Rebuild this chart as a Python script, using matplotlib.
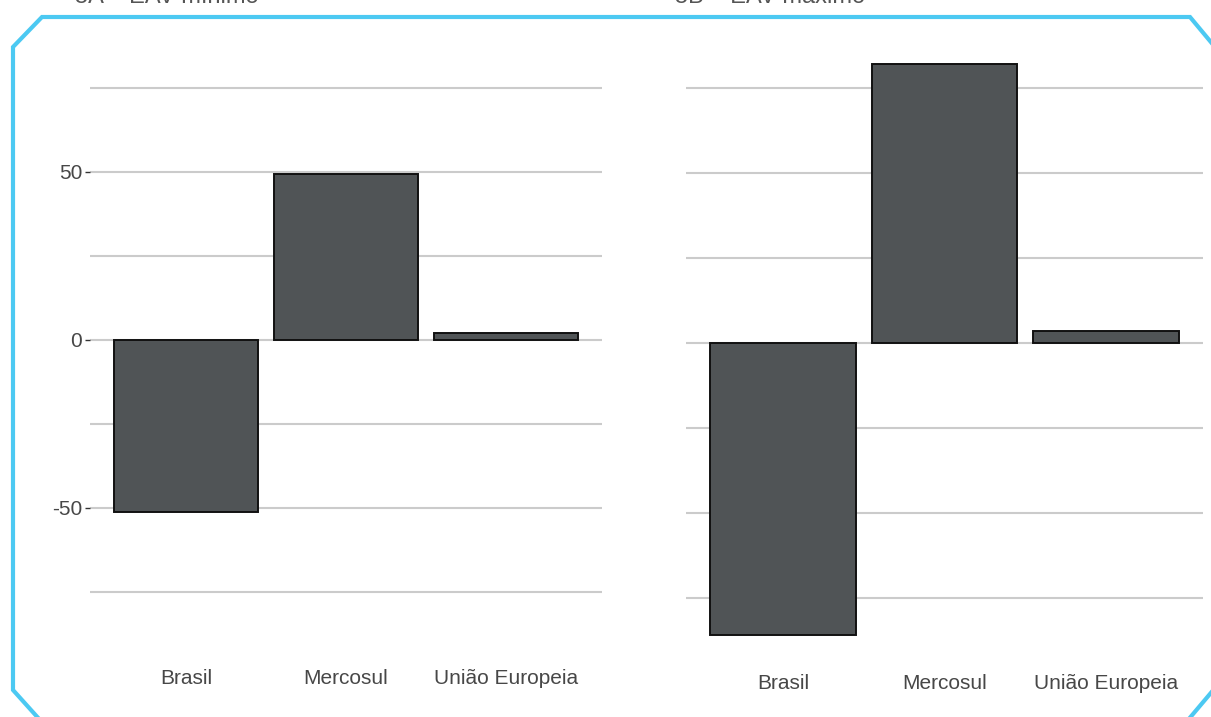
"""
EAV minimo / maximo bar panels
"""
import matplotlib as mpl
import matplotlib.pyplot as plt
from matplotlib.lines import Line2D

mpl.rcParams['font.family'] = ['Liberation Sans', 'DejaVu Sans']

categories = ['Brasil', 'Mercosul', 'União Europeia']
eav_min = [-51.2, 49.4, 2.1]
eav_max = [-85.9, 82.1, 3.5]
titles = ['5A – EAV mínimo', '5B – EAV máximo']
yticks_min = [-50, 0, 50]
grid_min = [-75, -50, -25, 0, 25, 50, 75]
grid_max = [-75, -50, -25, 0, 25, 50, 75]

W, H = 1211, 717
fig = plt.figure(figsize=(W / 100, H / 100), dpi=100)


def px_box(x0, y0, x1, y1):
    # pixel box (top-left origin) -> figure fraction rect
    return [x0 / W, 1 - y1 / H, (x1 - x0) / W, (y1 - y0) / H]


ax1 = fig.add_axes(px_box(90, 60, 602, 650))
ax2 = fig.add_axes(px_box(686, 50, 1203, 655))

grid_color = '#cbcbcb'
bar_color = '#505456'
text_color = '#474747'

for ax, vals, grid, ylim in [(ax1, eav_min, grid_min, (-92.3, 83.3)),
                             (ax2, eav_max, grid_max, (-91.8, 86.2))]:
    for g in grid:
        ax.axhline(g, color=grid_color, linewidth=1.5, zorder=1)
    ax.bar(range(len(categories)), vals, width=0.9, color=bar_color,
           edgecolor='#111111', linewidth=1.4, zorder=3)
    ax.set_xlim(-0.6, 2.6)
    ax.set_ylim(*ylim)
    ax.set_xticks(range(len(categories)))
    ax.set_xticklabels(categories, fontsize=15, color=text_color)
    ax.tick_params(axis='x', length=0, pad=14)
    for s in ax.spines.values():
        s.set_visible(False)
    ax.set_facecolor('none')

ax1.set_yticks(yticks_min)
ax1.set_yticklabels([str(t) for t in yticks_min], fontsize=15,
                    color=text_color)
ax1.tick_params(axis='y', length=3.5, width=1, color='#333333', pad=2)
ax2.set_yticks([])

# partially cut-off panel titles at the very top
fig.text(75 / W, 1 - 3 / H, titles[0], fontsize=17, color='#555555',
         va='baseline', ha='left')
fig.text(675 / W, 1 - 3 / H, titles[1], fontsize=17, color='#555555',
         va='baseline', ha='left')

# blue frame with cut corners
frame_color = '#4cc9f2'
pts = [(1215, 47), (1190, 17), (42, 17), (13, 47), (13, 690), (40, 720)]
xs = [p[0] / W for p in pts]
ys = [1 - p[1] / H for p in pts]
fig.add_artist(Line2D(xs, ys, color=frame_color, linewidth=3,
                      transform=fig.transFigure, solid_joinstyle='miter'))
fig.add_artist(Line2D([1215 / W, 1188 / W], [1 - 688 / H, 1 - 720 / H],
                      color=frame_color, linewidth=3,
                      transform=fig.transFigure))

fig.savefig('out.png', dpi=100)
